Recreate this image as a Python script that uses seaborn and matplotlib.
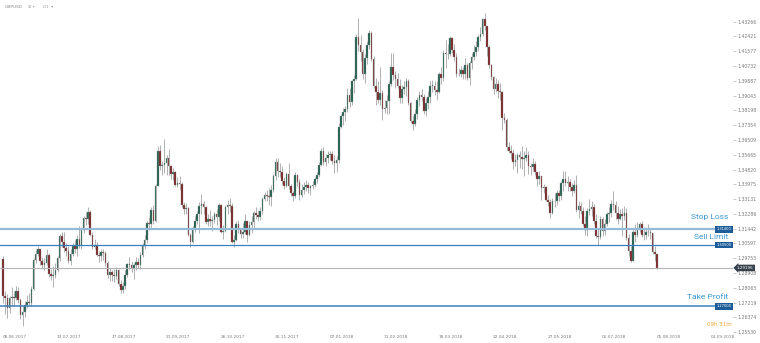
import matplotlib
matplotlib.use("Agg")
import matplotlib.pyplot as plt
import matplotlib.transforms as mtransforms
import seaborn as sns
import numpy as np
import pandas as pd

# ---------------- data ----------------
symbol = "GBPUSD"
timeframe = "D1"
first_open = 1.2970
closes = [
    1.2760,1.2745,1.2690,1.2745,1.2755,1.2750,1.2785,1.2735,1.2650,1.2670,1.2710,1.2725,1.2720,1.2800,1.2965,1.3000,1.3025,
    1.2960,1.2935,1.2950,1.2995,1.2885,1.2875,1.2880,1.2910,1.2975,1.3100,1.3070,1.3035,1.3015,1.2960,1.3000,1.3045,1.3030,1.3085,1.3045,1.3135,1.3205,
    1.3200,1.3240,1.3110,1.3040,1.3050,1.2995,1.2990,1.3010,1.3005,1.2945,1.2880,1.2895,1.2880,1.2875,1.2905,1.2825,1.2795,1.2815,1.2880,1.2940,1.2935,1.2920,1.2935,1.2955,
    1.2935,1.2995,1.3045,1.3080,1.3175,1.3170,1.3250,1.3185,1.3390,1.3590,1.3500,1.3505,1.3520,1.3550,1.3500,1.3455,1.3465,1.3395,1.3405,1.3400,
    1.3280,1.3255,1.3260,1.3110,1.3070,1.3150,1.3190,1.3230,1.3275,1.3285,1.3265,1.3180,1.3200,1.3190,1.3195,1.3225,1.3210,1.3280,1.3125,1.3130,
    1.3270,1.3280,1.3275,1.3065,1.3080,1.3170,1.3140,1.3115,1.3125,1.3190,1.3110,1.3165,1.3180,1.3235,1.3220,1.3210,1.3245,1.3315,1.3335,1.3330,
    1.3325,1.3365,1.3445,1.3525,1.3475,1.3465,1.3415,1.3390,1.3455,1.3385,1.3350,1.3330,1.3450,1.3410,1.3335,1.3365,1.3380,1.3395,1.3375,1.3385,
    1.3395,1.3425,1.3450,1.3510,1.3585,1.3525,1.3550,1.3565,1.3570,1.3530,1.3520,1.3535,1.3725,1.3790,1.3810,1.3825,1.3905,1.3865,1.3985,1.4000,
    1.4240,1.4195,1.4155,1.4030,1.4120,1.4195,1.4260,1.4115,1.3960,1.3925,1.3880,1.3920,1.3825,1.3835,1.3875,1.3970,1.4070,1.4020,1.4000,1.3960,
    1.3890,1.3940,1.3955,1.3985,1.3860,1.3760,1.3740,1.3800,1.3880,1.3910,1.3895,1.3815,1.3860,1.3895,1.3960,1.3960,1.3935,1.3925,1.4025,1.4005,
    1.4150,1.4140,1.4140,1.4235,1.4165,1.4125,1.4025,1.4030,1.4050,1.4030,1.4080,1.4005,1.4090,1.4125,1.4155,1.4180,1.4240,1.4255,1.4340,1.4300,
    1.4180,1.4080,1.4010,1.3940,1.3970,1.3930,1.3925,1.3775,1.3765,1.3610,1.3590,1.3575,1.3525,1.3535,1.3565,1.3555,1.3540,1.3545,1.3565,1.3500,
    1.3495,1.3515,1.3465,1.3425,1.3445,1.3375,1.3380,1.3310,1.3295,1.3235,1.3300,1.3300,1.3345,1.3330,1.3405,1.3425,1.3405,1.3410,1.3380,1.3360,
    1.3395,1.3250,1.3275,1.3245,1.3170,1.3135,1.3245,1.3255,1.3265,1.3185,1.3100,1.3095,1.3200,1.3130,1.3170,1.3230,1.3235,1.3285,1.3280,1.3235,
    1.3200,1.3230,1.3215,1.3235,1.3090,1.3015,1.2960,1.3125,1.3105,1.3150,1.3170,1.3110,1.3105,1.3125,1.3125,1.3120,1.3010,1.3000,1.2920,
]
highs = [
    1.2985,1.2790,1.2770,1.2760,1.2810,1.2790,1.2815,1.2810,1.2745,1.2700,1.2730,1.2765,1.2775,1.2815,1.2975,1.3030,1.3045,
    1.3030,1.2980,1.2975,1.3030,1.3005,1.2915,1.2930,1.2950,1.2990,1.3115,1.3125,1.3125,1.3060,1.3045,1.3025,1.3060,1.3080,1.3110,1.3160,1.3150,1.3215,
    1.3240,1.3265,1.3250,1.3125,1.3085,1.3070,1.3015,1.3030,1.3030,1.3015,1.2960,1.2920,1.2905,1.2915,1.2925,1.2915,1.2850,1.2840,1.2905,1.2950,1.2980,1.2960,1.2950,1.2980,
    1.2975,1.3010,1.3060,1.3110,1.3190,1.3210,1.3265,1.3280,1.3400,1.3615,1.3620,1.3530,1.3657,1.3565,1.3600,1.3505,1.3490,1.3475,1.3440,1.3445,
    1.3410,1.3295,1.3290,1.3265,1.3120,1.3160,1.3215,1.3245,1.3295,1.3340,1.3300,1.3275,1.3230,1.3250,1.3215,1.3240,1.3255,1.3290,1.3285,1.3165,
    1.3280,1.3310,1.3320,1.3290,1.3110,1.3185,1.3195,1.3150,1.3175,1.3225,1.3190,1.3190,1.3215,1.3245,1.3270,1.3250,1.3265,1.3325,1.3355,1.3365,
    1.3375,1.3395,1.3455,1.3550,1.3550,1.3520,1.3500,1.3440,1.3470,1.3520,1.3400,1.3360,1.3465,1.3455,1.3425,1.3400,1.3410,1.3420,1.3410,1.3395,
    1.3415,1.3440,1.3465,1.3525,1.3605,1.3610,1.3570,1.3590,1.3585,1.3590,1.3565,1.3560,1.3745,1.3800,1.3835,1.3845,1.3945,1.3945,1.3995,1.4020,
    1.4255,1.4345,1.4250,1.4170,1.4140,1.4215,1.4280,1.4275,1.4130,1.4005,1.3985,1.4065,1.3935,1.3880,1.3905,1.3985,1.4145,1.4145,1.4045,1.4035,
    1.4000,1.3965,1.3985,1.4005,1.4000,1.3865,1.3790,1.3825,1.3895,1.3930,1.3940,1.3915,1.3890,1.3930,1.3990,1.3995,1.3990,1.3990,1.4040,1.4065,
    1.4165,1.4220,1.4200,1.4245,1.4240,1.4200,1.4150,1.4060,1.4075,1.4070,1.4120,1.4090,1.4100,1.4150,1.4195,1.4215,1.4250,1.4295,1.4350,1.4377,
    1.4300,1.4195,1.4085,1.4015,1.4005,1.3995,1.3975,1.3930,1.3805,1.3775,1.3640,1.3620,1.3600,1.3570,1.3575,1.3590,1.3615,1.3590,1.3610,1.3585,
    1.3520,1.3545,1.3530,1.3470,1.3475,1.3445,1.3400,1.3385,1.3335,1.3315,1.3320,1.3345,1.3365,1.3365,1.3415,1.3475,1.3475,1.3445,1.3430,1.3405,
    1.3420,1.3450,1.3300,1.3295,1.3265,1.3215,1.3260,1.3315,1.3300,1.3285,1.3230,1.3140,1.3215,1.3210,1.3200,1.3240,1.3265,1.3305,1.3360,1.3300,
    1.3275,1.3255,1.3260,1.3275,1.3260,1.3115,1.3045,1.3140,1.3170,1.3180,1.3180,1.3190,1.3155,1.3150,1.3170,1.3150,1.3120,1.3045,1.3000,
]
lows = [
    1.2720,1.2655,1.2635,1.2660,1.2700,1.2700,1.2735,1.2720,1.2630,1.2590,1.2640,1.2690,1.2700,1.2700,1.2795,1.2950,1.2985,
    1.2935,1.2915,1.2905,1.2935,1.2870,1.2850,1.2810,1.2860,1.2895,1.2960,1.3040,1.3010,1.2985,1.2950,1.2935,1.2985,1.3005,1.2990,1.3035,1.3030,1.3120,
    1.3165,1.3170,1.3100,1.3030,1.3025,1.2985,1.2955,1.2960,1.2965,1.2930,1.2860,1.2845,1.2845,1.2840,1.2855,1.2815,1.2775,1.2775,1.2800,1.2870,1.2915,1.2895,1.2855,1.2910,
    1.2920,1.2915,1.2980,1.3030,1.3060,1.3135,1.3140,1.3170,1.3180,1.3385,1.3480,1.3450,1.3460,1.3450,1.3450,1.3430,1.3420,1.3385,1.3380,1.3365,
    1.3270,1.3230,1.3225,1.3100,1.3040,1.3060,1.3125,1.3170,1.3120,1.3230,1.3225,1.3170,1.3160,1.3160,1.3130,1.3175,1.3165,1.3185,1.3120,1.3085,
    1.3125,1.3230,1.3240,1.3060,1.3040,1.3075,1.3120,1.3090,1.3090,1.3115,1.3065,1.3100,1.3120,1.3150,1.3200,1.3185,1.3195,1.3225,1.3300,1.3300,
    1.3280,1.3275,1.3355,1.3420,1.3440,1.3440,1.3400,1.3370,1.3380,1.3370,1.3330,1.3300,1.3320,1.3385,1.3310,1.3325,1.3340,1.3360,1.3350,1.3335,
    1.3370,1.3380,1.3405,1.3440,1.3500,1.3505,1.3500,1.3520,1.3535,1.3515,1.3460,1.3465,1.3520,1.3720,1.3735,1.3760,1.3810,1.3840,1.3850,1.3920,
    1.3995,1.4160,1.4100,1.4000,1.3975,1.4085,1.4170,1.4100,1.3945,1.3850,1.3860,1.3850,1.3765,1.3805,1.3800,1.3800,1.3960,1.3995,1.3950,1.3945,
    1.3860,1.3860,1.3915,1.3900,1.3850,1.3745,1.3710,1.3730,1.3770,1.3845,1.3875,1.3800,1.3785,1.3830,1.3860,1.3925,1.3910,1.3880,1.3920,1.3970,
    1.3990,1.4060,1.4115,1.4130,1.4150,1.4100,1.4010,1.4015,1.4010,1.4000,1.4000,1.3995,1.3965,1.4055,1.4105,1.4130,1.4160,1.4215,1.4245,1.4280,
    1.4130,1.4060,1.3995,1.3915,1.3925,1.3890,1.3880,1.3710,1.3745,1.3595,1.3575,1.3540,1.3485,1.3500,1.3460,1.3490,1.3485,1.3445,1.3530,1.3455,
    1.3450,1.3475,1.3450,1.3390,1.3400,1.3305,1.3345,1.3300,1.3275,1.3205,1.3225,1.3265,1.3280,1.3300,1.3310,1.3360,1.3385,1.3360,1.3360,1.3330,
    1.3345,1.3240,1.3205,1.3230,1.3160,1.3105,1.3100,1.3220,1.3215,1.3170,1.3090,1.3050,1.3085,1.3100,1.3110,1.3160,1.3180,1.3210,1.3250,1.3200,
    1.3170,1.3195,1.3100,1.3195,1.3080,1.2990,1.2955,1.2960,1.3070,1.3095,1.3125,1.3095,1.3080,1.3085,1.3100,1.3085,1.3000,1.2960,1.2915,
]
date_labels = ["08.06.2017", "13.07.2017", "17.08.2017", "21.09.2017", "26.10.2017",
               "30.11.2017", "07.01.2018", "11.02.2018", "18.03.2018", "22.04.2018",
               "27.05.2018", "01.07.2018", "05.08.2018", "04.09.2018"]
date_label_bars = [0, 25, 50, 75, 100, 125, 150, 175, 200, 225, 250, 275, 300, 325]
price_ticks = [1.43266, 1.42421, 1.41577, 1.40732, 1.39887, 1.39043, 1.38198, 1.37354,
               1.36509, 1.35665, 1.34820, 1.33975, 1.33131, 1.32286, 1.31442, 1.30597,
               1.29753, 1.28908, 1.28063, 1.27219, 1.26374, 1.25530]
level_names = ["Stop Loss", "Sell Limit", "Take Profit"]
level_prices = [1.31400, 1.30500, 1.27000]
current_price = 1.29196
countdown = "09h 31m"

# ---------------- style ----------------
sns.set_theme(style="white")
plt.rcParams["font.family"] = ["DejaVu Sans"]

W, H = 760, 343
fig = plt.figure(figsize=(W / 100, H / 100), dpi=100)
fig.patch.set_facecolor("white")
ax = fig.add_axes([0, 0, 733 / W, 1])
ax.set_facecolor("white")

df = pd.DataFrame({"open": [first_open] + closes[:-1], "high": highs,
                   "low": lows, "close": closes})
df["bar"] = np.arange(len(df))
df["dir"] = np.where(df["close"] >= df["open"], "up", "down")
df["bottom"] = df[["open", "close"]].min(axis=1)
df["body"] = (df["close"] - df["open"]).abs().clip(lower=0.00025)

bull = "#1c5b49"
bear = "#7b1d1f"
wick = "#a3a3a3"

ax.vlines(df["bar"], df["low"], df["high"], color=wick, lw=0.6, zorder=2)
for d, col in (("up", bull), ("down", bear)):
    sub = df[df["dir"] == d]
    ax.bar(sub["bar"], sub["body"], bottom=sub["bottom"], width=0.72,
           color=col, edgecolor="#8e9a96", linewidth=0.25, zorder=3)

# axis scaling: 2.18 px per bar, first bar at x=3 px; 1.43266 at y=21.7 px, 14.78 px per tick step
px_bar = 2.18
x0 = 3.0
ax.set_xlim(-x0 / px_bar, (733 - x0) / px_bar)
ppx = 0.008446 / 14.78
ytop = 21.7
ymax = 1.43266 + ytop * ppx
ymin = 1.43266 - (H - ytop) * ppx
ax.set_ylim(ymin, ymax)

for s in ax.spines.values():
    s.set_visible(False)
ax.set_xticks([])
ax.yaxis.tick_right()
ax.set_yticks(price_ticks)
ax.set_yticklabels([f"{p:.5f}" for p in price_ticks])
ax.tick_params(axis="y", labelsize=3.3, labelcolor="#7a7a7a", color="#b5b5b5",
               length=2, width=0.5, pad=1.2, right=True, left=False)

blend = mtransforms.blended_transform_factory(ax.transAxes, ax.transData)
blend_x = mtransforms.blended_transform_factory(ax.transData, ax.transAxes)

# levels
level_colors = ["#94bad8", "#3a80bf", "#3a80bf"]
level_lw = [1.6, 0.9, 1.1]
name_offsets = [8.6, 6.0, 6.5]
for name, p, c, lw, off in zip(level_names, level_prices, level_colors, level_lw, name_offsets):
    ax.axhline(p, color=c, lw=lw, zorder=4)
    ax.annotate(name, xy=(728 / 733, p), xycoords=blend, xytext=(0, off),
                textcoords="offset points", ha="right", va="center",
                fontsize=6, color="#3d97d3", family=["Roboto", "DejaVu Sans"], zorder=6)
    ax.text(731.5 / 733, p, f"{p:.5f}", transform=blend, ha="right", va="center",
            fontsize=2.6, color="white", zorder=7,
            bbox=dict(boxstyle="square,pad=0.35", fc="#1d5c99", ec="none"))

# current price
ax.axhline(current_price, color="#b4b4b4", lw=0.8, zorder=4)
ax.text(737 / 733, current_price, f"{current_price:.5f}", transform=blend,
        ha="left", va="center", fontsize=3.0, color="white", clip_on=False, zorder=8,
        bbox=dict(boxstyle="larrow,pad=0.3", fc="#35404a", ec="none"))

# date labels
for lab, b in zip(date_labels, date_label_bars):
    ax.text(b - 0.3, 1 - 337 / H, lab, transform=blend_x, ha="left", va="center",
            fontsize=3.1, color="#7a7a7a", clip_on=False)

# countdown
ax.text(732 / 733, 1 - 324 / H, countdown, transform=ax.transAxes,
        ha="right", va="center", fontsize=4.0, color="#f3a535", zorder=6)

# header
fig.text(5 / W, 1 - 7 / H, symbol, ha="left", va="center", fontsize=3.2, color="#8a8a8a")
fig.text(28 / W, 1 - 7 / H, "\u229e \u25be", ha="left", va="center", fontsize=3.0, color="#b0b0b0")
fig.text(43 / W, 1 - 7 / H, timeframe + "  \u25be", ha="left", va="center", fontsize=3.0, color="#9a9a9a")

fig.savefig("out.png", dpi=100, facecolor="white")
